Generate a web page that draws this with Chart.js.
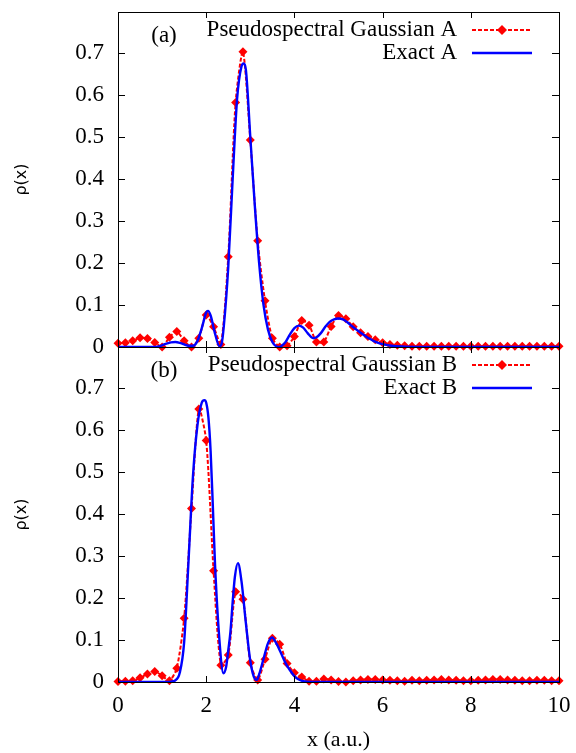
<!DOCTYPE html>
<html lang="en">
<head>
<meta charset="UTF-8">
<title>rho(x)</title>
<script src="https://cdn.jsdelivr.net/npm/chart.js"></script>
<style>
  html, body { margin: 0; padding: 0; background: #fff; }
  #wrap { position: relative; width: 576px; height: 753px; }
  canvas { position: absolute; left: 0; top: 0; }
</style>
</head>
<body>
<div id="wrap">
  <canvas id="chartA" width="576" height="753"></canvas>
  <canvas id="chartB" width="576" height="753"></canvas>
</div>
<script>
// grid of the pseudospectral points (a.u.)
const gridX = [0, 0.167, 0.333, 0.5, 0.667, 0.833, 1, 1.167, 1.333, 1.5,
  1.667, 1.833, 2, 2.167, 2.333, 2.5, 2.667, 2.833, 3, 3.167,
  3.333, 3.5, 3.667, 3.833, 4, 4.167, 4.333, 4.5, 4.667, 4.833,
  5, 5.167, 5.333, 5.5, 5.667, 5.833, 6, 6.167, 6.333, 6.5,
  6.667, 6.833, 7, 7.167, 7.333, 7.5, 7.667, 7.833, 8, 8.167,
  8.333, 8.5, 8.667, 8.833, 9, 9.167, 9.333, 9.5, 9.667, 9.833, 10];

const pseudoA = [0.009, 0.010, 0.015, 0.022, 0.020, 0.011, 0.000, 0.023, 0.037, 0.015,
  0.000, 0.021, 0.076, 0.048, 0.006, 0.215, 0.582, 0.703, 0.493, 0.253,
  0.110, 0.021, 0.000, 0.003, 0.025, 0.063, 0.052, 0.012, 0.012, 0.049,
  0.075, 0.067, 0.048, 0.034, 0.025, 0.017, 0.010, 0.006, 0.004, 0.003,
  0.002, 0.002, 0.002, 0.002, 0.002, 0.002, 0.002, 0.002, 0.002, 0.002,
  0.002, 0.002, 0.002, 0.002, 0.002, 0.002, 0.002, 0.002, 0.002, 0.002, 0.002];

const pseudoB = [0.001, 0.002, 0.003, 0.010, 0.019, 0.025, 0.015, 0.003, 0.033, 0.152,
  0.413, 0.650, 0.575, 0.265, 0.040, 0.064, 0.215, 0.197, 0.046, 0.005,
  0.054, 0.104, 0.090, 0.044, 0.022, 0.012, 0.002, 0.002, 0.007, 0.005,
  0.001, 0.000, 0.003, 0.005, 0.006, 0.006, 0.005, 0.004, 0.003, 0.002,
  0.004, 0.003, 0.004, 0.005, 0.006, 0.005, 0.004, 0.003, 0.003, 0.004,
  0.005, 0.006, 0.006, 0.005, 0.004, 0.003, 0.003, 0.004, 0.004, 0.003, 0.003];

// exact densities
const exactAx = [0, 0.8, 0.9, 1.0, 1.1, 1.2, 1.3, 1.4, 1.5, 1.6, 1.7, 1.8, 1.9, 2.0, 2.04, 2.1, 2.2, 2.3,
  2.35, 2.4, 2.5, 2.6, 2.7, 2.8, 2.85, 2.9, 3.0, 3.1, 3.2, 3.3, 3.4, 3.5, 3.6, 3.65, 3.7, 3.8, 3.9,
  4.0, 4.1, 4.2, 4.3, 4.43, 4.5, 4.6, 4.7, 4.8, 4.9, 5.0, 5.1, 5.2, 5.3, 5.4, 5.5, 5.6, 5.7, 5.8,
  5.9, 6.0, 6.2, 6.5, 7.0, 10];
const exactAy = [0, 0, 0.001, 0.004, 0.008, 0.011, 0.012, 0.010, 0.006, 0.003, 0.003, 0.014, 0.045, 0.082, 0.086, 0.075, 0.032, 0.002,
  0.008, 0.05, 0.19, 0.40, 0.59, 0.668, 0.675, 0.66, 0.50, 0.34, 0.20, 0.10, 0.042, 0.012, 0.001, 0, 0.002, 0.012, 0.030,
  0.045, 0.051, 0.046, 0.033, 0.021, 0.023, 0.033, 0.048, 0.060, 0.066, 0.068, 0.066, 0.059, 0.050, 0.042, 0.034, 0.027, 0.020, 0.014,
  0.010, 0.007, 0.003, 0.001, 0, 0];

const exactBx = [0, 1.1, 1.2, 1.3, 1.4, 1.5, 1.6, 1.7, 1.8, 1.9, 1.96, 2.0, 2.05, 2.1, 2.15, 2.2, 2.3, 2.39,
  2.45, 2.5, 2.55, 2.6, 2.65, 2.72, 2.8, 2.9, 3.0, 3.1, 3.15, 3.2, 3.3, 3.4, 3.49, 3.6, 3.7, 3.8,
  3.9, 4.0, 4.1, 4.2, 4.4, 10];
const exactBy = [0, 0, 0.001, 0.004, 0.022, 0.095, 0.29, 0.49, 0.61, 0.665, 0.671, 0.665, 0.63, 0.55, 0.42, 0.28, 0.10, 0.021,
  0.035, 0.075, 0.12, 0.19, 0.25, 0.283, 0.24, 0.14, 0.05, 0.008, 0.005, 0.018, 0.055, 0.092, 0.106, 0.090, 0.068, 0.045,
  0.028, 0.014, 0.006, 0.002, 0, 0];

const xTicks = [0, 2, 4, 6, 8, 10];
const yTicks = [0, 0.1, 0.2, 0.3, 0.4, 0.5, 0.6, 0.7];

const serif = "'Liberation Serif', 'Times New Roman', serif";
const RED = '#ff0000';
const BLUE = '#0000ff';

// gnuplot-like frame, inward ticks, key and panel label
const frame = {
  id: 'frame',
  afterDatasetsDraw(chart, args, opts) {
    const { ctx, chartArea: a, scales: { x, y } } = chart;
    ctx.save();
    ctx.strokeStyle = '#000';
    ctx.lineWidth = 1;
    ctx.strokeRect(Math.round(a.left) + 0.5, Math.round(a.top) + 0.5,
      Math.round(a.right - a.left), Math.round(a.bottom - a.top));
    ctx.beginPath();
    yTicks.forEach(v => {
      const py = Math.round(y.getPixelForValue(v)) + 0.5;
      ctx.moveTo(a.left, py); ctx.lineTo(a.left + 7, py);
      ctx.moveTo(a.right, py); ctx.lineTo(a.right - 7, py);
    });
    xTicks.forEach(v => {
      const px = Math.round(x.getPixelForValue(v)) + 0.5;
      ctx.moveTo(px, a.bottom); ctx.lineTo(px, a.bottom - 6);
      ctx.moveTo(px, a.top); ctx.lineTo(px, a.top + 6);
    });
    ctx.stroke();

    // panel label
    ctx.fillStyle = '#000';
    ctx.font = '23px ' + serif;
    ctx.textBaseline = 'middle';
    ctx.textAlign = 'center';
    ctx.fillText(opts.panel, 164, a.top + 24);

    // key
    ctx.textAlign = 'right';
    const y1 = a.top + 18, y2 = a.top + 41;
    ctx.fillText(opts.pseudoLabel, 457, y1);
    ctx.fillText(opts.exactLabel, 457, y2);

    ctx.lineWidth = 2;
    ctx.strokeStyle = RED;
    ctx.setLineDash([4, 2]);
    ctx.beginPath(); ctx.moveTo(472, y1); ctx.lineTo(532, y1); ctx.stroke();
    ctx.setLineDash([]);
    ctx.fillStyle = RED;
    ctx.beginPath();
    ctx.moveTo(502, y1 - 5); ctx.lineTo(507, y1); ctx.lineTo(502, y1 + 5); ctx.lineTo(497, y1);
    ctx.closePath(); ctx.fill();

    ctx.lineWidth = 2.4;
    ctx.strokeStyle = BLUE;
    ctx.beginPath(); ctx.moveTo(472, y2); ctx.lineTo(532, y2); ctx.stroke();
    ctx.restore();
  }
};

function makeChart(id, cfg) {
  return new Chart(document.getElementById(id), {
    type: 'line',
    data: {
      datasets: [
        {
          label: cfg.exactLabel,
          data: cfg.exactX.map((v, i) => ({ x: v, y: cfg.exactY[i] })),
          borderColor: BLUE,
          borderWidth: 2.4,
          pointRadius: 0,
          cubicInterpolationMode: 'monotone',
          fill: false
        },
        {
          label: cfg.pseudoLabel,
          data: gridX.map((v, i) => ({ x: v, y: cfg.pseudo[i] })),
          borderColor: RED,
          backgroundColor: RED,
          borderWidth: 2,
          borderDash: [4, 2],
          pointStyle: 'rectRot',
          pointRadius: 4.5,
          pointBorderWidth: 0,
          pointBackgroundColor: RED,
          tension: 0.25,
          fill: false,
          clip: false
        }
      ]
    },
    options: {
      responsive: false,
      animation: false,
      events: [],
      layout: { padding: cfg.padding },
      plugins: {
        legend: { display: false },
        tooltip: { enabled: false },
        frame: { panel: cfg.panel, pseudoLabel: cfg.pseudoLabel, exactLabel: cfg.exactLabel }
      },
      scales: {
        x: {
          type: 'linear',
          min: 0,
          max: 10,
          display: cfg.showX,
          afterBuildTicks: s => { s.ticks = xTicks.map(v => ({ value: v })); },
          afterFit: s => { s.height = cfg.showX ? 71 : 0; s.paddingLeft = 0; s.paddingRight = 0; },
          grid: { display: false, drawTicks: false },
          border: { display: false },
          ticks: { color: '#000', font: { family: serif, size: 23 }, padding: 10, maxRotation: 0 },
          title: { display: cfg.showX, text: 'x (a.u.)', color: '#000', font: { family: serif, size: 22 }, padding: { top: 0, bottom: 0 } }
        },
        y: {
          type: 'linear',
          min: 0,
          max: 0.7976,
          afterBuildTicks: s => { s.ticks = yTicks.map(v => ({ value: v })); },
          afterFit: s => { s.width = 118; s.paddingTop = 0; s.paddingBottom = 0; },
          grid: { display: false, drawTicks: false },
          border: { display: false },
          ticks: { color: '#000', font: { family: serif, size: 23 }, padding: 14, callback: v => String(v) },
          title: { display: true, text: 'ρ(x)', color: '#000', font: { family: "'DejaVu Sans', sans-serif", size: 16 }, padding: { top: 12, bottom: 0 } }
        }
      }
    },
    plugins: [frame]
  });
}

makeChart('chartA', {
  panel: '(a)',
  pseudoLabel: 'Pseudospectral Gaussian A',
  exactLabel: 'Exact A',
  pseudo: pseudoA,
  exactX: exactAx,
  exactY: exactAy,
  showX: false,
  padding: { left: 0, right: 17, top: 12, bottom: 406 }
});

makeChart('chartB', {
  panel: '(b)',
  pseudoLabel: 'Pseudospectral Gaussian B',
  exactLabel: 'Exact B',
  pseudo: pseudoB,
  exactX: exactBx,
  exactY: exactBy,
  showX: true,
  padding: { left: 0, right: 17, top: 347, bottom: 0 }
});
</script>
</body>
</html>
